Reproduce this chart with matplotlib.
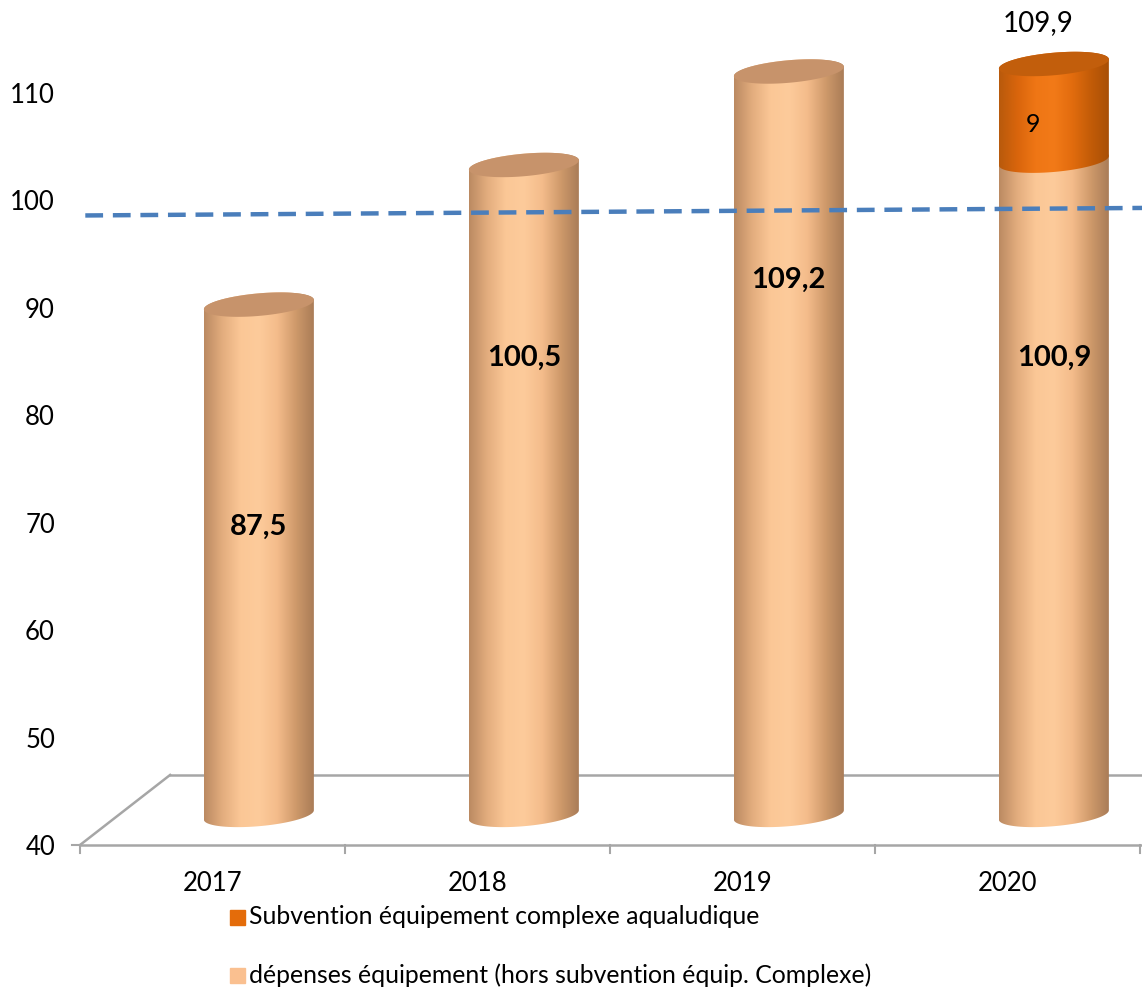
import numpy as np
import matplotlib
matplotlib.use("Agg")
import matplotlib.pyplot as plt
from matplotlib.patches import Polygon, Rectangle
from matplotlib.colors import LinearSegmentedColormap

plt.rcParams['font.family'] = ['Lato', 'DejaVu Sans']

# data
years = ['2017', '2018', '2019', '2020']
depenses = [87.5, 100.5, 109.2, 100.9]        # hors subvention
subvention = [0, 0, 0, 9]                     # complexe aqualudique
totals = [87.5, 100.5, 109.2, 109.9]
trend = [98.6, 99.3]                          # dashed line, start / end
legend_labels = ['Subvention équipement complexe aqualudique',
                 'dépenses équipement (hors subvention équip. Complexe)']

# layout of the fake 3d look
depth = 2.8      # vertical shift of the bars (3d depth)
shift = 0.175    # horizontal shift of the bars
hw = 0.2075      # half width of cylinder
eh = 1.05        # half height of ellipses
tilt = 2.1       # ellipse tilt (y per x)
label_y = [69.6, 85.3, 92.6, 85.3]

peach = LinearSegmentedColormap.from_list(
    'peach', ['#bb8a62', '#e3ad7e', '#fbc796', '#fdcb9b', '#f4bc8b', '#cf9a6b', '#aa7c57'])
orange = LinearSegmentedColormap.from_list(
    'orng', ['#b85a0c', '#d9650c', '#ef7615', '#f27a18', '#e26c0e', '#c35c08', '#a84f06'])

fig = plt.figure(figsize=(11.42, 9.89), dpi=100)
ax = fig.add_axes([80 / 1142, (989 - 845) / 989, 1062 / 1142, 845 / 989])
ymax = 40 + 845 / 10.743
ax.set_xlim(-0.5, -0.5 + 1062 / 265)
ax.set_ylim(40, ymax)
for s in ax.spines.values():
    s.set_visible(False)


def ellipse_pts(xc, yc, upper=True, lower=True, n=80):
    if upper and lower:
        t = np.linspace(0, 2 * np.pi, 2 * n)
    elif upper:
        t = np.linspace(0, np.pi, n)
    else:
        t = np.linspace(np.pi, 2 * np.pi, n)
    x = xc + hw * np.cos(t)
    y = yc + eh * np.sin(t) + tilt * (x - xc)
    return x, y


def cylinder(xc, y0, y1, cmap, top_col, z, top=True):
    xb, yb = ellipse_pts(xc, y0, upper=False)   # front bottom arc, left->right
    xt, yt = ellipse_pts(xc, y1, lower=False)   # top back arc, right->left
    pts = np.column_stack([np.r_[xb, xt], np.r_[yb, yt]])
    body = Polygon(pts, closed=True, facecolor='none', edgecolor='none', zorder=z)
    ax.add_patch(body)
    grad = np.linspace(0, 1, 256).reshape(1, -1)
    im = ax.imshow(grad, cmap=cmap, aspect='auto', zorder=z,
                   extent=[xc - hw, xc + hw, y0 - 2, y1 + 2], origin='lower')
    im.set_clip_path(body)
    if top:
        x, y = ellipse_pts(xc, y1)
        ax.add_patch(Polygon(np.column_stack([x, y]), closed=True,
                             facecolor=top_col, edgecolor='none', zorder=z + 0.1))


# floor
floor_y = 46.52
ax.plot([-0.5, -0.16], [40, floor_y], color='#a6a6a6', lw=1.8, zorder=1, clip_on=False)
ax.plot([-0.16, 3.6], [floor_y, floor_y], color='#a6a6a6', lw=1.8, zorder=1, clip_on=False)
ax.plot([-0.5, 3.6], [40, 40], color='#a6a6a6', lw=1.8, zorder=5, clip_on=False)
for xt in [-0.5, 0.5, 1.5, 2.5, 3.5]:
    ax.plot([xt, xt], [40, 39.25], color='#a6a6a6', lw=1.5, zorder=5, clip_on=False)
ax.plot([-0.53, -0.5], [40, 40], color='#a6a6a6', lw=1.5, zorder=5, clip_on=False)

# bars
for i in range(len(years)):
    xc = i + shift
    base = 40 + depth
    cylinder(xc, base, depenses[i] + depth, peach, '#c7936b', 2,
             top=(subvention[i] == 0))
    if subvention[i] > 0:
        cylinder(xc, depenses[i] + depth, depenses[i] + subvention[i] + depth,
                 orange, '#c25e0c', 3)
        ax.text(xc - 0.08, depenses[i] + subvention[i] / 2 + 1.7, f'{subvention[i]:g}',
                fontsize=18, ha='center', va='center', zorder=6)
        ax.text(xc - 0.06, totals[i] + depth + 3.8, f'{totals[i]:.1f}'.replace('.', ','),
                fontsize=20, ha='center', va='center', zorder=6, clip_on=False)
    ax.text(xc, label_y[i], f'{depenses[i]:.1f}'.replace('.', ','),
            fontsize=21, fontweight='bold', ha='center', va='center', zorder=6)

# dashed line
ax.plot([-0.48, 3.51], trend, color='#4a7ebb', lw=3.2, ls=(0, (4, 2.2)),
        zorder=7, clip_on=False)

ax.set_yticks(range(40, 111, 10))
ax.set_xticks(range(len(years)))
ax.set_xticklabels(years)
ax.tick_params(axis='both', length=0, labelsize=18.5)
ax.tick_params(axis='y', pad=18)
ax.tick_params(axis='x', pad=19)

# legend
fig.patches.append(Rectangle((230 / 1142, 1 - 925 / 989), 15 / 1142, 15 / 989,
                             transform=fig.transFigure, color='#e46c0a'))
fig.patches.append(Rectangle((230 / 1142, 1 - 983 / 989), 15 / 1142, 15 / 989,
                             transform=fig.transFigure, color='#fac090'))
fig.text(249 / 1142, 1 - 917 / 989, legend_labels[0], fontsize=17.8, va='center')
fig.text(249 / 1142, 1 - 975 / 989, legend_labels[1], fontsize=17.8, va='center')

fig.savefig('out.png', dpi=100)
